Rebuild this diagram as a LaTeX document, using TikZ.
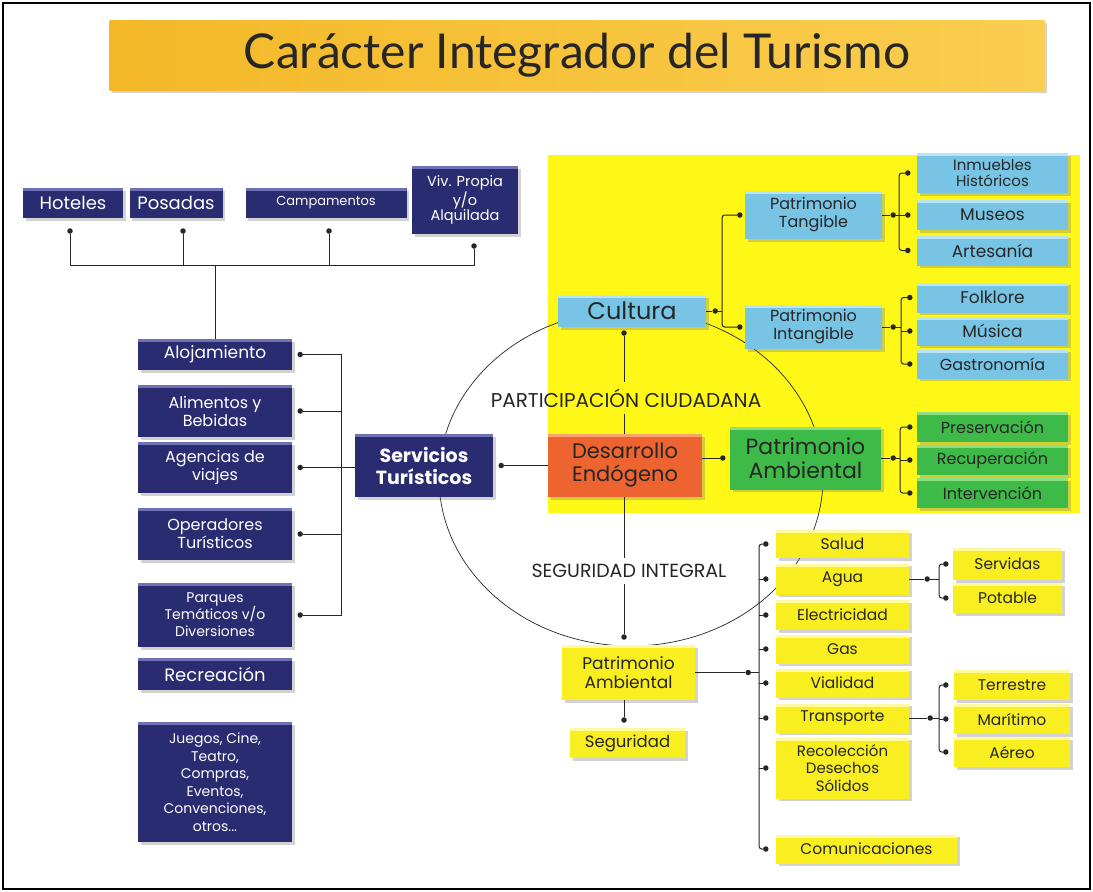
\documentclass[tikz,border=0pt]{standalone}
\usepackage{fontspec}
\setmainfont{Poppins}
\newfontfamily\titlefont{Lato}
\usetikzlibrary{shadows}

\definecolor{navy}{RGB}{42,44,114}
\definecolor{navyhi}{RGB}{110,114,180}
\definecolor{cyanb}{RGB}{120,196,228}
\definecolor{cyanhi}{RGB}{185,228,246}
\definecolor{orangeb}{RGB}{238,100,48}
\definecolor{orangehi}{RGB}{250,160,110}
\definecolor{greenb}{RGB}{62,186,72}
\definecolor{greenhi}{RGB}{140,224,130}
\definecolor{yellowb}{RGB}{248,238,32}
\definecolor{yellowhi}{RGB}{255,250,160}
\definecolor{yellowbg}{RGB}{255,248,22}
\definecolor{titlel}{RGB}{244,184,40}
\definecolor{titler}{RGB}{250,206,80}

\tikzset{
  sz/.style 2 args={minimum width=#1pt, minimum height=#2pt},
  fs/.style 2 args={font=\fontsize{#1}{#2}\selectfont},
  tbox/.style={rectangle, inner sep=2pt, align=center, text=black!85,
    drop shadow={opacity=.35, shadow xshift=2.5pt, shadow yshift=-2.5pt}},
  hilite/.style={path picture={\fill[#1] (path picture bounding box.north west)
    rectangle ([yshift=-3pt]path picture bounding box.north east);}},
  navybox/.style={tbox, fill=navy, text=white, hilite=navyhi},
  cyanbox/.style={tbox, fill=cyanb, hilite=cyanhi},
  orangebox/.style={tbox, fill=orangeb, hilite=orangehi},
  greenbox/.style={tbox, fill=greenb, hilite=greenhi},
  yelbox/.style={tbox, fill=yellowb, hilite=yellowhi},
  dot/.style={circle, fill=black!85, inner sep=0pt, minimum size=5.5pt},
  lnk/.style={draw=black!85, line width=1pt},
  brk/.style={lnk, rounded corners=2.5pt},
  ringlabel/.style={text=black!85, inner sep=6pt},
}

\begin{document}
\begin{tikzpicture}[x=1pt,y=-1pt]
\useasboundingbox (0,0) rectangle (1093,892);
\fill[white] (0,0) rectangle (1093,892);
\draw[line width=2pt] (3,3) rectangle (1090,889);

% title
\node[tbox, left color=titlel, right color=titler, sz={935}{70},
  font=\titlefont\fontsize{48}{48}\selectfont] (title) at (577,55) {Carácter Integrador del Turismo};

% yellow field and the ring
\fill[yellowbg] (548,155) rectangle (1080,513);
\draw[draw=black!85, line width=.7pt] (631,478) ellipse [x radius=192pt, y radius=168pt];

% alojamiento types
\node[navybox, sz={100}{30}, fs={18}{20}] (hot) at (73,203) {Hoteles};
\node[navybox, sz={93}{30}, fs={18}{20}] (pos) at (176,203) {Posadas};
\node[navybox, sz={161}{30}, fs={13}{15}] (cam) at (326,203) {Campamentos};
\node[navybox, sz={106}{68}, fs={14.5}{15}] (viv) at (465,200) {Viv. Propia\\y/o\\Alquilada};
\node[dot] (dhot) at (70,231) {};
\node[dot] (dpos) at (183,231) {};
\node[dot] (dcam) at (329,231) {};
\node[dot] (dviv) at (474,246) {};
\coordinate (jtop) at (215,265);

% servicios
\node[navybox, sz={154}{31}, fs={17}{19}] (alo) at (215,354.5) {Alojamiento};
\node[navybox, sz={154}{52}, fs={16}{18}] (ali) at (215,411) {Alimentos y\\Bebidas};
\node[navybox, sz={154}{51}, fs={16}{18}] (age) at (215,467.5) {Agencias de\\viajes};
\node[navybox, sz={154}{52}, fs={16}{18}] (ope) at (215,534) {Operadores\\Turísticos};
\node[navybox, sz={154}{64}, fs={14}{17}] (par) at (215,615) {Parques\\Temáticos v/o\\Diversiones};
\node[navybox, sz={154}{32}, fs={18}{20}] (rec) at (215,674) {Recreación};
\node[navybox, sz={154}{120}, fs={14}{17.5}] (jue) at (215,782) {Juegos, Cine,\\Teatro,\\Compras,\\Eventos,\\Convenciones,\\otros...};
\node[dot] (dalo) at ([xshift=8pt]alo.east) {};
\node[dot] (dali) at ([xshift=8pt]ali.east) {};
\node[dot] (dage) at ([xshift=8pt]age.east) {};
\node[dot] (dope) at ([xshift=8pt]ope.east) {};
\node[dot] (dpar) at ([xshift=8pt]par.east) {};
\coordinate (jleft) at (341,467.5);

\node[navybox, sz={138}{63}, font=\bfseries\fontsize{19}{22}\selectfont] (ser) at (424,465.5) {Servicios\\Turísticos};
\node[orangebox, sz={154}{63}, fs={21}{23}] (des) at (625,465.5) {Desarrollo\\Endógeno};
\node[greenbox, sz={151}{63}, fs={22}{24}] (pam) at (805.5,458) {Patrimonio\\Ambiental};
\node[dot] (dser) at ([xshift=8pt]ser.east) {};
\node[dot] (dpam) at ([xshift=-7pt]pam.west) {};

% cultura
\node[cyanbox, sz={148}{32}, fs={24}{26}] (cul) at (632,311) {Cultura};
\node[cyanbox, sz={137}{48}, fs={16}{18}] (tan) at (813.5,215) {Patrimonio\\Tangible};
\node[cyanbox, sz={137}{44}, fs={16}{18}] (int) at (813.5,327) {Patrimonio\\Intangible};
\node[cyanbox, sz={151}{40}, fs={15}{16}] (inm) at (992.5,173) {Inmuebles\\Históricos};
\node[cyanbox, sz={151}{30}, fs={17}{19}] (mus) at (992.5,215) {Museos};
\node[cyanbox, sz={151}{30}, fs={17}{19}] (art) at (992.5,250.5) {Artesanía};
\node[cyanbox, sz={151}{30}, fs={17}{19}] (fol) at (992.5,297.5) {Folklore};
\node[cyanbox, sz={151}{29}, fs={17}{19}] (msc) at (992.5,331) {Música};
\node[cyanbox, sz={151}{29}, fs={16}{19}] (gst) at (992.5,364) {Gastronomía};
\node[dot] (dcul) at (624,333) {};
\node[dot] (dculr) at ([xshift=9pt]cul.east) {};
\coordinate (cbr) at ([xshift=16pt]cul.east);
\node[dot] (dtan) at ([xshift=-5pt]tan.west) {};
\node[dot] (dint) at ([xshift=-5pt]int.west) {};
\node[dot] (dtanr) at ([xshift=11pt]tan.east) {};
\coordinate (tbr) at ([xshift=17pt]tan.east);
\node[dot] (dinm) at ([xshift=-9pt]inm.west) {};
\node[dot] (dmus) at ([xshift=-9pt]mus.west) {};
\node[dot] (dart) at ([xshift=-9pt]art.west) {};
\node[dot] (dintr) at ([xshift=11pt]int.east) {};
\coordinate (ibr) at ([xshift=19pt]int.east);
\node[dot] (dfol) at ([xshift=-7pt]fol.west) {};
\node[dot] (dmsc) at ([xshift=-7pt]msc.west) {};
\node[dot] (dgst) at ([xshift=-7pt]gst.west) {};

% patrimonio ambiental (verde)
\node[greenbox, sz={151}{30}, fs={16}{18}] (pre) at (992.5,427) {Preservación};
\node[greenbox, sz={151}{30}, fs={16}{18}] (rcp) at (992.5,460) {Recuperación};
\node[greenbox, sz={151}{30}, fs={16}{18}] (itv) at (992.5,493) {Intervención};
\node[dot] (dpamr) at ([xshift=12pt]pam.east) {};
\coordinate (gbr) at ([xshift=19pt]pam.east);
\node[dot] (dpre) at ([xshift=-7pt]pre.west) {};
\node[dot] (drcp) at ([xshift=-7pt]rcp.west) {};
\node[dot] (ditv) at ([xshift=-7pt]itv.west) {};

% ring labels
\node[ringlabel, fs={20}{20}] (parti) at (626,398) {PARTICIPACIÓN CIUDADANA};
\node[ringlabel, fs={19}{19}] (segi) at (629,571) {SEGURIDAD INTEGRAL};

% patrimonio ambiental (amarillo)
\node[yelbox, sz={133}{55}, fs={17}{19}] (pab) at (628.5,672.5) {Patrimonio\\Ambiental};
\node[yelbox, sz={115}{30}, fs={16.5}{18}] (sgd) at (627.5,743) {Seguridad};
\node[dot] (dpatop) at (624,637) {};
\node[dot] (dsgd) at (624,720) {};
\node[yelbox, sz={133}{28}, fs={15.5}{18}] (sal) at (842.5,544) {Salud};
\node[yelbox, sz={133}{31}, fs={15.5}{18}] (agu) at (842.5,579) {Agua};
\node[yelbox, sz={133}{30}, fs={15.5}{18}] (ele) at (842.5,615) {Electricidad};
\node[yelbox, sz={133}{29}, fs={15.5}{18}] (gas) at (842.5,649) {Gas};
\node[yelbox, sz={133}{29}, fs={15.5}{18}] (via) at (842.5,683) {Vialidad};
\node[yelbox, sz={133}{29}, fs={15.5}{18}] (tra) at (842.5,718) {Transporte};
\node[yelbox, sz={133}{61}, fs={15}{17.5}] (rco) at (842.5,768) {Recolección\\Desechos\\Sólidos};
\node[yelbox, sz={181}{29}, fs={15.5}{18}] (com) at (866.5,849) {Comunicaciones};
\node[yelbox, sz={109}{32}, fs={15.5}{18}] (svd) at (1007.5,564) {Servidas};
\node[yelbox, sz={109}{30}, fs={15.5}{18}] (pot) at (1007.5,598) {Potable};
\node[yelbox, sz={116}{30}, fs={15.5}{18}] (ter) at (1012,685) {Terrestre};
\node[yelbox, sz={116}{30}, fs={15.5}{18}] (mar) at (1012,719) {Marítimo};
\node[yelbox, sz={116}{30}, fs={15.5}{18}] (aer) at (1012,752) {Aéreo};
\node[dot] (dpab) at ([xshift=53pt]pab.east) {};
\coordinate (ybr) at ([xshift=64pt]pab.east);
\node[dot] (dsal) at ([xshift=-10pt]sal.west) {};
\node[dot] (dagu) at ([xshift=-10pt]agu.west) {};
\node[dot] (dele) at ([xshift=-10pt]ele.west) {};
\node[dot] (dgas) at ([xshift=-10pt]gas.west) {};
\node[dot] (dvia) at ([xshift=-10pt]via.west) {};
\node[dot] (dtra) at ([xshift=-10pt]tra.west) {};
\node[dot] (drco) at ([xshift=-10pt]rco.west) {};
\node[dot] (dcom) at ([xshift=-10pt]com.west) {};
\node[dot] (dagur) at ([xshift=18pt]agu.east) {};
\coordinate (abr) at ([xshift=30pt]agu.east);
\node[dot] (dsvd) at ([xshift=-7pt]svd.west) {};
\node[dot] (dpot) at ([xshift=-7pt]pot.west) {};
\node[dot] (dtrar) at ([xshift=21pt]tra.east) {};
\coordinate (rbr) at ([xshift=30pt]tra.east);
\node[dot] (dter) at ([xshift=-8pt]ter.west) {};
\node[dot] (dmar) at ([xshift=-8pt]mar.west) {};
\node[dot] (daer) at ([xshift=-8pt]aer.west) {};

% connectors
\draw[lnk] (dhot) -- (dhot |- jtop) -- (dviv |- jtop) -- (dviv);
\draw[lnk] (dpos) -- (dpos |- jtop);
\draw[lnk] (dcam) -- (dcam |- jtop);
\draw[lnk] (jtop) -- (jtop |- alo.north);
\draw[lnk] (dalo) -- (dalo -| jleft) -- (dpar -| jleft) -- (dpar);
\draw[lnk] (dali) -- (dali -| jleft);
\draw[lnk] (dage) -- (dage -| jleft);
\draw[lnk] (dope) -- (dope -| jleft);
\draw[lnk] (jleft) -- (jleft -| ser.west);
\draw[lnk] (dser) -- (dser -| des.west);
\draw[lnk] (dpam) -- (dpam -| des.east);
\draw[lnk] (dcul) -- (dcul |- parti.north);
\draw[lnk] (dcul |- parti.south) -- (dcul |- des.north);
\draw[lnk] (dcul |- des.south) -- (dcul |- segi.north);
\draw[lnk] (dcul |- segi.south) -- (dpatop);
\draw[lnk] (dcul |- pab.south) -- (dsgd);
\draw[lnk] (cul.east) -- (dculr) -- (cbr);
\draw[brk] (dtan) -- (dtan -| cbr) -- (dint -| cbr) -- (dint);
\draw[lnk] (tan.east) -- (dtanr) -- (tbr);
\draw[brk] (dinm) -- (dinm -| tbr) -- (dart -| tbr) -- (dart);
\draw[lnk] (dmus -| tbr) -- (dmus);
\draw[lnk] (int.east) -- (dintr) -- (ibr);
\draw[brk] (dfol) -- (dfol -| ibr) -- (dgst -| ibr) -- (dgst);
\draw[lnk] (dmsc -| ibr) -- (dmsc);
\draw[lnk] (pam.east) -- (dpamr) -- (gbr);
\draw[brk] (dpre) -- (dpre -| gbr) -- (ditv -| gbr) -- (ditv);
\draw[lnk] (drcp -| gbr) -- (drcp);
\draw[lnk] (pab.east) -- (dpab) -- (ybr);
\draw[brk] (dsal) -- (dsal -| ybr) -- (dcom -| ybr) -- (dcom);
\foreach \d in {dagu,dele,dgas,dvia,dtra,drco}
  \draw[lnk] (\d -| ybr) -- (\d);
\draw[lnk] (agu.east) -- (dagur) -- (abr);
\draw[brk] (dsvd) -- (dsvd -| abr) -- (dpot -| abr) -- (dpot);
\draw[lnk] (tra.east) -- (dtrar) -- (rbr);
\draw[brk] (dter) -- (dter -| rbr) -- (daer -| rbr) -- (daer);
\draw[lnk] (dmar -| rbr) -- (dmar);
\end{tikzpicture}
\end{document}
